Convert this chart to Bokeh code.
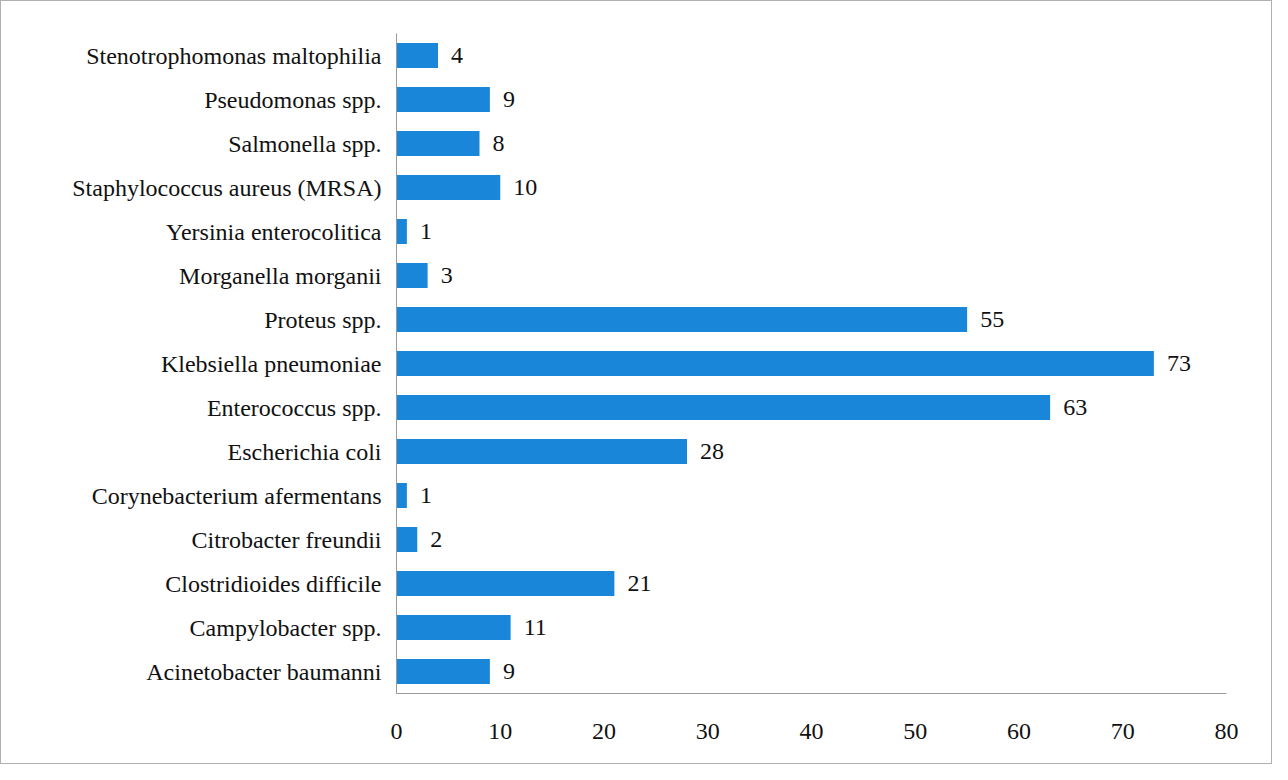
from bokeh.plotting import figure
from bokeh.models import ColumnDataSource, LabelSet, FactorRange, Range1d, FixedTicker
from bokeh.embed import file_html
from bokeh.resources import INLINE

organisms = [
    "Acinetobacter baumanni",
    "Campylobacter spp.",
    "Clostridioides difficile",
    "Citrobacter freundii",
    "Corynebacterium afermentans",
    "Escherichia coli",
    "Enterococcus spp.",
    "Klebsiella pneumoniae",
    "Proteus spp.",
    "Morganella morganii",
    "Yersinia enterocolitica",
    "Staphylococcus aureus (MRSA)",
    "Salmonella spp.",
    "Pseudomonas spp.",
    "Stenotrophomonas maltophilia",
]
counts = [9, 11, 21, 2, 1, 28, 63, 73, 55, 3, 1, 10, 8, 9, 4]
x_ticks = [0, 10, 20, 30, 40, 50, 60, 70, 80]

src = ColumnDataSource(dict(org=organisms, n=counts, lab=[str(c) for c in counts]))

FONT = "Liberation Serif"

p = figure(width=1272, height=764, output_backend="svg", toolbar_location=None,
           y_range=FactorRange(*organisms, range_padding=0.0),
           x_range=Range1d(0, 80),
           min_border_left=395, min_border_right=47, min_border_top=32, min_border_bottom=72)
p.styles = {"border": "1px solid #b0b0b0"}

p.hbar(y="org", right="n", left=0, height=0.57, source=src,
       fill_color="#1a86d9", line_color=None)

labels = LabelSet(x="n", y="org", text="lab", source=src, x_offset=13, y_offset=0,
                  text_baseline="middle", text_align="left",
                  text_font=FONT, text_font_size="24px", text_color="#111111")
p.add_layout(labels)

p.xgrid.visible = False
p.ygrid.visible = False
p.outline_line_color = None

p.xaxis.ticker = FixedTicker(ticks=x_ticks)
for ax in (p.xaxis[0], p.yaxis[0]):
    ax.major_tick_line_color = None
    ax.minor_tick_line_color = None
    ax.axis_line_color = "#9a9a9a"
    ax.axis_line_width = 1
    ax.major_label_text_font = FONT
    ax.major_label_text_font_size = "24px"
    ax.major_label_text_color = "#111111"
p.xaxis.major_label_standoff = 24
p.yaxis.major_label_standoff = 9

open("out.html", "w").write(file_html(p, INLINE))
